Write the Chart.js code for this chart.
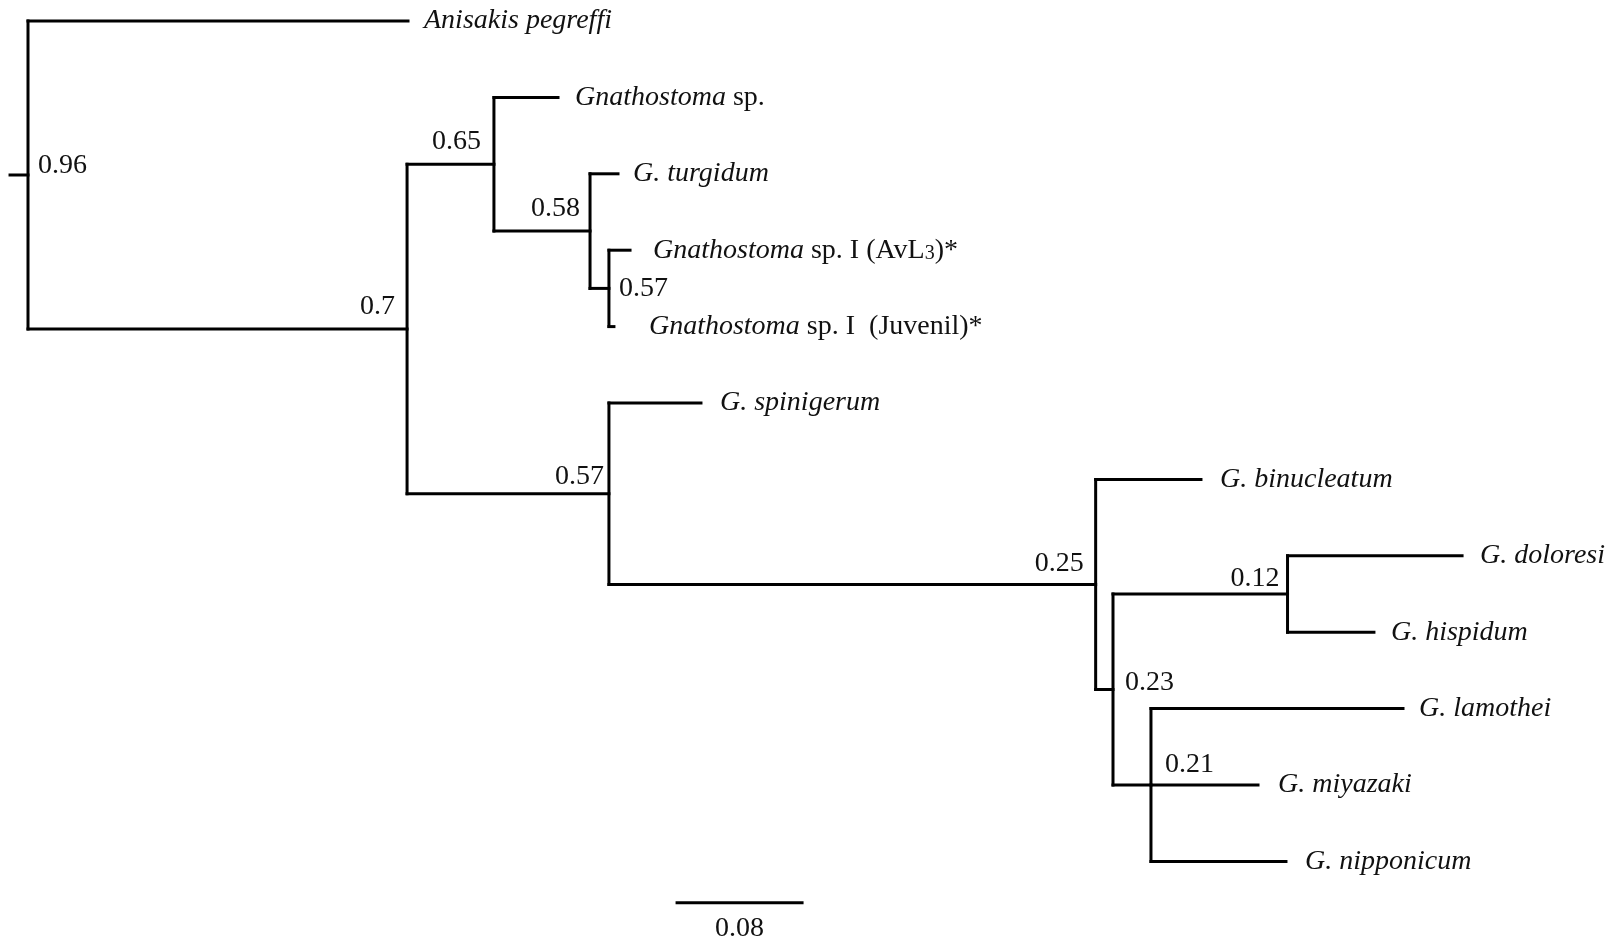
<!DOCTYPE html>
<html>
<head>
<meta charset="utf-8">
<title>Gnathostoma tree</title>
<script src="https://cdn.jsdelivr.net/npm/chart.js@4.4.0/dist/chart.umd.min.js"></script>
<style>
    html, body { margin: 0; padding: 0; background: #fff; }
    #tree { display: block; }
</style>
</head>
<body>
<canvas id="tree" width="1610" height="942"></canvas>
<script>
// Taxa, top to bottom (row index = position in the list)
// each label is a list of [text, style]: i = italic, r = roman, s = subscript
const leafNames = [
    [['Anisakis pegreffi', 'i']],
    [['Gnathostoma', 'i'], [' sp.', 'r']],
    [['G. turgidum', 'i']],
    [['Gnathostoma', 'i'], [' sp. I (AvL', 'r'], ['3', 's'], [')*', 'r']],
    [['Gnathostoma', 'i'], [' sp. I  (Juvenil)*', 'r']],
    [['G. spinigerum', 'i']],
    [['G. binucleatum', 'i']],
    [['G. doloresi', 'i']],
    [['G. hispidum', 'i']],
    [['G. lamothei', 'i']],
    [['G. miyazaki', 'i']],
    [['G. nipponicum', 'i']]
];
// distance from the root (substitutions per site)
const leafDepth = [0.2432, 0.3392, 0.3776, 0.3853, 0.3750, 0.4307,
                   0.7507, 0.9178, 0.8614, 0.8800, 0.7872, 0.8051];
const leafParent = ['root', 'B', 'C', 'D', 'D', 'E', 'F', 'H', 'H', 'I', 'I', 'I'];

// Internal nodes
const nodeNames   = ['root', 'A', 'B', 'C', 'D', 'E', 'F', 'G', 'H', 'I'];
const nodeDepth   = [0, 0.2426, 0.2982, 0.3597, 0.3718, 0.3718, 0.6833, 0.6944, 0.8061, 0.7187];
const nodeParent  = [null, 'root', 'A', 'B', 'C', 'A', 'E', 'F', 'G', 'G'];
const nodeSupport = ['0.96', '0.7', '0.65', '0.58', '0.57', '0.57', '0.25', '0.23', '0.12', '0.21'];

// Scale bar
const scaleBarLength = 0.08;
const scaleBarLabel = '0.08';

// ---- layout / style ----
const PX_PER_UNIT = 1562.5;
const ROOT_PX = 28;
const ROW_PX = 76.4;
const TOP_PX = 21;
const LINE = '#000';
const TEXT = '#111';
const FONT_SIZE = 28;
const fonts = {
    i: 'italic ' + FONT_SIZE + 'px "Liberation Serif", "Times New Roman", serif',
    r: FONT_SIZE + 'px "Liberation Serif", "Times New Roman", serif',
    s: Math.round(FONT_SIZE * 0.7) + 'px "Liberation Serif", "Times New Roman", serif'
};
const leafGap = [16, 17, 15, 23, 35, 19, 19, 18, 17, 16, 20, 19];
// support label offset from its node: [dx, dy, align]
const supportOffset = [
    [10, -9, 'left'], [-12, -22, 'right'], [-13, -23, 'right'], [-10, -22, 'right'],
    [10, 0, 'left'], [-5, -17, 'right'], [-12, -21, 'right'], [12, -7, 'left'],
    [-8, -15, 'right'], [14, -20, 'left']
];
const scaleBarStart = 0.4154;
const scaleBarRow = 11.54;
const rootStub = 0.0115;

// ---- tree geometry ----
function childrenOf(name) {
    const kids = [];
    leafParent.forEach((p, i) => { if (p === name) kids.push({ leaf: true, idx: i }); });
    nodeParent.forEach((p, i) => { if (p === name) kids.push({ leaf: false, idx: i }); });
    return kids;
}

// row of an internal node = middle of its outermost children
const nodeRow = {};
function rowOf(kid) {
    if (kid.leaf) return kid.idx;
    const name = nodeNames[kid.idx];
    if (nodeRow[name] === undefined) {
        const rows = childrenOf(name).map(rowOf);
        nodeRow[name] = (Math.min(...rows) + Math.max(...rows)) / 2;
    }
    return nodeRow[name];
}
nodeNames.forEach((n, i) => rowOf({ leaf: false, idx: i }));

const datasets = [];
function segment(x1, y1, x2, y2) {
    datasets.push({
        data: [{ x: x1, y: y1 }, { x: x2, y: y2 }],
        showLine: true,
        borderColor: LINE,
        borderWidth: 3,
        borderCapStyle: 'square',
        pointRadius: 0,
        fill: false
    });
}

nodeNames.forEach((name, i) => {
    const kids = childrenOf(name);
    const rows = kids.map(rowOf);
    // vertical bar
    segment(nodeDepth[i], Math.min(...rows), nodeDepth[i], Math.max(...rows));
    // horizontal branches to children
    kids.forEach((k, j) => {
        const d = k.leaf ? leafDepth[k.idx] : nodeDepth[k.idx];
        segment(nodeDepth[i], rows[j], d, rows[j]);
    });
});
segment(-rootStub, nodeRow.root, 0, nodeRow.root);
segment(scaleBarStart, scaleBarRow, scaleBarStart + scaleBarLength, scaleBarRow);

const treeLabels = {
    id: 'treeLabels',
    afterDatasetsDraw(chart) {
        const { ctx, scales: { x, y } } = chart;
        ctx.save();
        ctx.fillStyle = TEXT;
        ctx.textBaseline = 'middle';

        // taxa
        ctx.textAlign = 'left';
        leafNames.forEach((parts, i) => {
            let px = x.getPixelForValue(leafDepth[i]) + leafGap[i];
            const py = y.getPixelForValue(i);
            parts.forEach(([t, s]) => {
                ctx.font = fonts[s];
                ctx.fillText(t, px, s === 's' ? py + 4 : py);
                px += ctx.measureText(t).width;
            });
        });

        // support values
        ctx.font = fonts.r;
        nodeNames.forEach((name, i) => {
            const [dx, dy, align] = supportOffset[i];
            ctx.textAlign = align;
            ctx.fillText(nodeSupport[i],
                x.getPixelForValue(nodeDepth[i]) + dx,
                y.getPixelForValue(nodeRow[name]) + dy);
        });

        // scale bar label
        ctx.textAlign = 'center';
        ctx.fillText(scaleBarLabel,
            x.getPixelForValue(scaleBarStart + scaleBarLength / 2),
            y.getPixelForValue(scaleBarRow) + 26);
        ctx.restore();
    }
};

new Chart(document.getElementById('tree'), {
    type: 'scatter',
    data: { datasets: datasets },
    options: {
        responsive: false,
        animation: false,
        layout: { padding: 0 },
        plugins: {
            legend: { display: false },
            tooltip: { enabled: false }
        },
        scales: {
            x: {
                type: 'linear',
                display: false,
                min: -ROOT_PX / PX_PER_UNIT,
                max: (1610 - ROOT_PX) / PX_PER_UNIT
            },
            y: {
                type: 'linear',
                display: false,
                reverse: true,
                min: -TOP_PX / ROW_PX,
                max: (942 - TOP_PX) / ROW_PX
            }
        }
    },
    plugins: [treeLabels]
});
</script>
</body>
</html>
